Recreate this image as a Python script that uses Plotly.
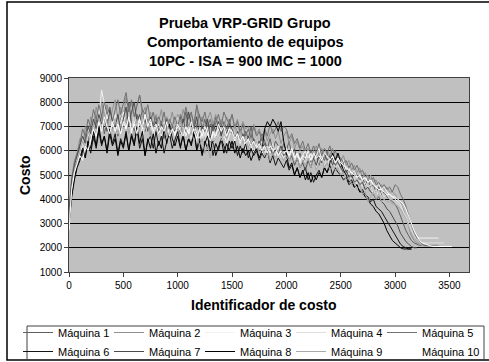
import plotly.graph_objects as go

cost_ids = list(range(0, 3526, 25))

names = ["Máquina 1", "Máquina 2", "Máquina 3", "Máquina 4", "Máquina 5",
         "Máquina 6", "Máquina 7", "Máquina 8", "Máquina 9", "Máquina 10"]
colors = ["#606060", "#909090", "#f2f2f2", "#dedede", "#707070",
          "#141414", "#4c4c4c", "#000000", "#a8a8a8", "#ffffff"]

m1 = [3300, 4600, 5300, 5600, 6100, 5800, 6600, 6300, 7000, 6400, 7300, 6800, 7500, 6700, 7200, 7800, 6900, 7400, 6600, 7300,
      7600, 7000, 8000, 7200, 6800, 7500, 7100, 7700, 6800, 7300, 6600, 7100, 7400, 6800, 7200, 6500, 7000, 7300, 6700, 7100,
      6800, 7400, 7000, 7600, 6900, 7200, 6600, 7100, 7500, 6900, 7300, 6700, 7100, 6800, 7400, 7000, 6600, 7200, 6900, 7300,
      6700, 7100, 6600, 6900, 6400, 6800, 6500, 7000, 6300, 6600, 6200, 6700, 6400, 6100, 6500, 6000, 6400, 6200, 5900, 6300,
      6000, 6400, 5800, 6100, 5600, 5900, 5500, 5800, 6000, 5500, 5700, 5900, 5400, 5800, 5600, 5900, 5500, 5700, 5400, 5600,
      5300, 5500, 5100, 5300, 4900, 5200, 5000, 4800, 4900, 4600, 4800, 4500, 4600, 4300, 4500, 4200, 4300, 4100, 4000, 3900,
      3800, 3600, 3300, 3000, 2700, 2500, 2300, 2200, 2150, 2100, 2100, 2100, 2100]
m2 = [3600, 4900, 5600, 5900, 6500, 6200, 7000, 6700, 7400, 7000, 7800, 7300, 8000, 7400, 7900, 7200, 7700, 8100, 7300, 7800,
      7400, 8200, 7600, 8000, 7300, 7900, 8300, 7500, 7800, 7100, 7600, 7000, 7500, 7200, 7700, 6900, 7400, 7100, 7600, 7000,
      7500, 7100, 7700, 7300, 6900, 7500, 7200, 7800, 7000, 7400, 6900, 7300, 7600, 7100, 7500, 6800, 7300, 7000, 7400, 7100,
      7500, 7000, 7300, 6800, 7200, 6900, 7000, 6600, 7100, 6700, 6900, 6500, 6800, 6400, 6700, 6900, 6500, 6800, 6300, 6600,
      6800, 6300, 6600, 6100, 6400, 6000, 6200, 5800, 6100, 5700, 6000, 6200, 5800, 6100, 5700, 6000, 5800, 6100, 5700, 5900,
      5600, 5800, 5400, 5600, 5200, 5400, 5100, 5300, 4900, 5100, 4800, 5000, 4700, 4800, 4500, 4600, 4400, 4500, 4300, 4300,
      4200, 4000, 3900, 3600, 3200, 2800, 2500, 2300, 2200, 2150, 2100, 2100, 2100, 2100, 2100, 2100, 2100]
m3 = [2800, 4300, 5000, 5500, 5800, 6300, 6000, 6700, 6500, 7100, 6800, 7400, 8500, 7900, 7300, 7700, 7000, 7500, 6800, 7200,
      7600, 7000, 7300, 6700, 7200, 6900, 7400, 6600, 7000, 6800, 7300, 6500, 6900, 7100, 6600, 7000, 6400, 6800, 7100, 6600,
      7000, 6700, 7200, 6600, 6900, 6500, 7100, 6700, 6400, 6900, 6600, 7000, 6300, 6700, 6500, 6900, 6400, 6700, 6300, 6600,
      6900, 6400, 6700, 6300, 6600, 6100, 6500, 6200, 5900, 6300, 5600, 6000, 5700, 6200, 5900, 6100, 5800, 6200, 5900, 5700,
      6100, 5800, 6000, 5600, 5900, 5500, 5800, 6000, 5600, 5900, 5500, 5800, 6100, 5600, 5900, 5700, 5500, 5800, 5500, 5600,
      5400, 5600, 5200, 5300, 5000, 5200, 4900, 5000, 4800, 4900, 4700, 4800, 4600, 4500, 4600, 4400, 4500, 4300, 4200, 4100,
      4000, 3900, 3800, 3500, 3200, 2900, 2700, 2550, 2450, 2400, 2400, 2400, 2400, 2400, 2400, 2400, 2400]
m4 = [3200, 4700, 5400, 5700, 6000, 6500, 6200, 6900, 6600, 7200, 6800, 7500, 7000, 7300, 6800, 7400, 7000, 7300, 6700, 7100,
      7400, 6900, 7300, 6800, 7500, 7000, 7200, 6700, 7300, 6900, 7100, 6600, 7000, 7300, 6700, 7200, 6900, 7300, 6800, 7100,
      7400, 6900, 7200, 6800, 7000, 6500, 6800, 6400, 6900, 6500, 6700, 6300, 6600, 6200, 6500, 6700, 6400, 6600, 6700, 6900,
      6800, 7000, 6600, 6800, 6400, 6600, 6200, 6500, 6300, 6600, 6100, 6400, 5900, 6200, 6000, 6300, 5800, 6100, 5700, 5900,
      5900, 5700, 6000, 5600, 5800, 5400, 5700, 5500, 5800, 5400, 5700, 5300, 5600, 5800, 5400, 5700, 5300, 5500, 5300, 5400,
      5100, 5300, 4900, 5100, 4800, 4900, 4600, 4800, 4500, 4700, 4500, 4600, 4200, 4400, 4100, 4300, 4100, 4200, 4000, 4000,
      3900, 3800, 3700, 3500, 3300, 3000, 2700, 2500, 2350, 2250, 2200, 2200, 2200, 2200, 2200, 2200, 2200, 2200, 2200]
m5 = [3400, 4800, 5500, 5900, 6300, 6900, 6600, 7300, 7000, 7700, 7300, 7900, 7400, 8000, 7500, 7800, 7200, 7700, 8100, 7500,
      7900, 8400, 7600, 8100, 7400, 7800, 8300, 7700, 7500, 7900, 7200, 7600, 7000, 7400, 7100, 7600, 6900, 7300, 7000, 7400,
      7000, 7500, 7200, 7800, 7300, 7600, 7000, 7900, 7400, 7200, 7600, 7000, 7300, 6800, 7200, 7500, 7000, 7600, 7300, 7100,
      7500, 6900, 7200, 6700, 7100, 6600, 6900, 6500, 7000, 6600, 6800, 6400, 6900, 6600, 7100, 6700, 6900, 7200, 6800, 7000,
      6900, 6500, 6700, 6300, 6500, 6100, 6400, 6000, 6300, 5900, 6200, 5900, 6300, 5800, 6100, 5900, 6200, 5800, 6000, 5700,
      5700, 5500, 5600, 5300, 5500, 5200, 5400, 5100, 5200, 4900, 5000, 4800, 4900, 4600, 4700, 4500, 4600, 4400, 4500, 4300,
      4600, 4500, 4200, 4000, 3700, 3300, 2900, 2600, 2400, 2250, 2150, 2100, 2080, 2050, 2050, 2050, 2050, 2050, 2050, 2050,
      2050, 2050]
m6 = [3000, 4200, 4900, 5400, 5700, 6100, 5800, 6300, 5900, 6600, 6100, 6800, 6200, 6600, 6000, 6900, 6300, 6700, 5900, 6500,
      6200, 6800, 6000, 6700, 6300, 6900, 6100, 6500, 5800, 6400, 6600, 6100, 6800, 6200, 6600, 5900, 6400, 6700, 6100, 6500,
      6800, 6200, 6600, 6000, 6500, 6300, 6700, 6100, 6500, 5900, 6400, 6100, 6600, 5800, 6300, 6000, 6500, 6200, 5900, 6400,
      6100, 6400, 5800, 6200, 5900, 6300, 5700, 6100, 5800, 6000, 5600, 5900, 5700, 6000, 5500, 5800, 5400, 5700, 5500, 5300,
      5600, 5200, 5400, 5000, 5300, 4900, 5100, 5300, 4800, 5100, 4700, 5000, 5200, 4900, 5300, 5100, 5400, 5000, 5300, 5100,
      5000, 4800, 4900, 4600, 4700, 4500, 4600, 4300, 4400, 4200, 4100, 3900, 4000, 3700, 3600, 3500, 3300, 3100, 2900, 2700,
      2500, 2300, 2150, 2050, 2000, 1950, 1950]
m7 = [3500, 4800, 5400, 5800, 6200, 6600, 6300, 7000, 6700, 7300, 6900, 7500, 7100, 7400, 6800, 7700, 7200, 7000, 7500, 6800,
      7300, 7800, 7000, 7600, 8000, 7200, 7500, 6900, 7300, 6800, 7400, 7000, 7200, 6700, 7100, 6900, 7300, 6600, 7000, 6800,
      7100, 6700, 7300, 6800, 7600, 7100, 6900, 7400, 6600, 7000, 6800, 7300, 6500, 7100, 6800, 7200, 6600, 7000, 6700, 7100,
      6900, 6500, 6800, 6400, 6700, 6300, 6600, 6200, 6500, 6000, 6400, 6100, 6300, 5900, 6200, 5800, 6100, 5900, 6200, 5800,
      5900, 5600, 5800, 5400, 5700, 5300, 5500, 5200, 5600, 5300, 5700, 5400, 5800, 5500, 5900, 5600, 5800, 5400, 5700, 5500,
      5300, 5100, 5200, 4900, 5000, 4700, 4800, 4600, 4700, 4400, 4500, 4300, 4200, 4000, 4100, 3900, 3800, 3600, 3500, 3300,
      3100, 2900, 2600, 2400, 2250, 2150, 2050, 2000, 2000]
m8 = [2900, 4100, 4800, 5300, 5600, 6000, 5700, 6400, 6100, 6800, 6200, 7000, 6300, 6600, 5900, 6700, 6200, 6500, 5800, 6400,
      6100, 6700, 6000, 6600, 6200, 7000, 6300, 6800, 5800, 6500, 6100, 6700, 5900, 6400, 6100, 6900, 6300, 7100, 6500, 6200,
      6600, 6100, 6700, 6000, 6500, 6200, 6800, 6000, 6400, 5800, 6300, 6600, 6000, 6400, 5800, 6200, 6500, 5900, 6300, 6000,
      6400, 5900, 6200, 5700, 6100, 5800, 6000, 5600, 5900, 6100, 5700, 6000, 6900, 7200, 7000, 7300, 7100, 6800, 7200, 6400,
      5800, 5300, 5500, 5000, 5300, 4900, 5200, 4800, 5100, 4700, 5000, 4800, 5100, 4900, 5300, 5100, 5500, 5900, 5600, 5900,
      5500, 5200, 5000, 4700, 4800, 4500, 4600, 4300, 4300, 4100, 4000, 3800, 3700, 3500, 3400, 3200, 3000, 2700, 2500, 2300,
      2200, 2100, 2000, 1950, 1950, 1950, 1950]
m9 = [3100, 4500, 5200, 5600, 5900, 6400, 6100, 6800, 6500, 7100, 6700, 7300, 6900, 7600, 7000, 7400, 6800, 7300, 6700, 7100,
      6900, 7300, 6700, 7100, 6600, 7300, 6800, 7500, 6900, 7200, 6600, 7000, 6800, 7300, 6700, 7100, 6500, 6900, 6700, 7200,
      6800, 7200, 6700, 7000, 6500, 6800, 6400, 6700, 6200, 6500, 5900, 6200, 5700, 6300, 6500, 6800, 6400, 6700, 6500, 6800,
      6700, 7000, 6500, 6800, 6300, 6600, 6100, 6500, 6200, 6400, 5900, 6200, 5800, 6000, 5600, 5900, 5700, 6000, 5800, 5600,
      5800, 5600, 5900, 5500, 5700, 5300, 5600, 5400, 5700, 5300, 5600, 5200, 5500, 5700, 5300, 5500, 5200, 5400, 5200, 5300,
      5000, 5100, 4800, 4900, 4600, 4700, 4400, 4600, 4200, 4300, 3900, 4100, 4300, 4000, 4200, 3900, 4000, 3900, 3900, 3800,
      3800, 3700, 3600, 3400, 3200, 2900, 2600, 2400, 2250, 2150, 2100, 2050, 2050, 2050, 2050, 2050, 2050, 2050, 2050]
m10 = [2700, 4400, 5100, 5500, 5800, 5600, 6200, 6000, 6500, 6900, 6600, 7200, 6800, 7400, 7000, 6700, 7200, 6800, 7100, 6700,
       7200, 6900, 7400, 6800, 7100, 6700, 7300, 6900, 7500, 7000, 7300, 6800, 7100, 6700, 7000, 6800, 7200, 6600, 6900, 6700,
       7100, 6800, 6600, 7000, 6700, 7200, 6800, 6500, 6900, 6600, 7000, 6700, 6400, 6800, 6600, 7100, 6800, 7000, 6600, 6900,
       6800, 6500, 6700, 6400, 6600, 6300, 6500, 6200, 6400, 6100, 6300, 6000, 6200, 5900, 6200, 6000, 6100, 5800, 6000, 5900,
       6000, 5800, 6100, 5700, 5900, 5600, 5800, 5700, 6000, 5600, 5900, 5700, 5800, 5600, 5900, 5800, 5600, 5800, 5500, 5700,
       5500, 5400, 5300, 5200, 5100, 5000, 4900, 5000, 4800, 4900, 4700, 4800, 4600, 4500, 4400, 4400, 4300, 4200, 4200, 4100,
       4100, 4000, 3900, 3800, 3600, 3300, 3000, 2700, 2500, 2300, 2200, 2150, 2100, 2080, 2050, 2050, 2050, 2050, 2050, 2050,
       2050, 2050]

series = [m1, m2, m3, m4, m5, m6, m7, m8, m9, m10]

fig = go.Figure()
for name, col, vals in zip(names, colors, series):
    fig.add_trace(go.Scatter(x=cost_ids[:len(vals)], y=vals, mode="lines", name=name,
                             line=dict(color=col, width=1)))

L, R, T, B = 69, 469, 78, 272
W, H = 489, 362
def px(xp):
    return (xp - L) / (R - L)
def py(yp):
    return (B - yp) / (B - T)

fig.update_layout(
    width=W, height=H,
    margin=dict(l=L, r=W - R, t=T, b=H - B, pad=0, autoexpand=False),
    paper_bgcolor="white", plot_bgcolor="#c0c0c0",
    font=dict(family="Liberation Sans, Arial, sans-serif", color="black", size=10),
    showlegend=True,
    legend=dict(orientation="h", x=px(18), xanchor="left", y=py(318), yanchor="top",
                entrywidth=46, entrywidthmode="pixels",
                font=dict(size=11), bgcolor="rgba(0,0,0,0)", borderwidth=0,
                traceorder="normal", tracegroupgap=0),
)
fig.update_xaxes(range=[0, 3680], tickmode="linear", tick0=0, dtick=500,
                 showgrid=False, zeroline=False, showline=True, linecolor="#404040",
                 linewidth=1, mirror=True, ticks="outside", ticklen=4, tickcolor="#404040",
                 tickfont=dict(size=10), title=None)
fig.update_yaxes(range=[1000, 9000], tickmode="linear", tick0=1000, dtick=1000,
                 showgrid=True, gridcolor="black", gridwidth=1, zeroline=False,
                 showline=True, linecolor="#404040", linewidth=1, mirror=True,
                 ticks="outside", ticklen=4, tickcolor="#404040",
                 tickfont=dict(size=10), title=None)

title_lines = ["Prueba VRP-GRID Grupo", "Comportamiento de equipos", "10PC - ISA = 900 IMC = 1000"]
for t, yc in zip(title_lines, [23, 42, 61]):
    fig.add_annotation(text="<b>%s</b>" % t, xref="paper", yref="paper",
                       x=px(245), y=py(yc), xanchor="center", yanchor="middle",
                       showarrow=False, font=dict(size=14.5))
fig.add_annotation(text="<b>Costo</b>", xref="paper", yref="paper", x=px(25), y=py(175),
                   xanchor="center", yanchor="middle", textangle=-90, showarrow=False,
                   font=dict(size=14))
fig.add_annotation(text="<b>Identificador de costo</b>", xref="paper", yref="paper",
                   x=px(263), y=py(305), xanchor="center", yanchor="middle",
                   showarrow=False, font=dict(size=14))

fig.add_shape(type="rect", xref="paper", yref="paper", x0=px(7), x1=px(495), y0=py(360), y1=py(2),
              line=dict(color="black", width=1.5), layer="below")
fig.add_shape(type="rect", xref="paper", yref="paper", x0=px(27), x1=px(484), y0=py(360), y1=py(326),
              line=dict(color="#404040", width=1), layer="below")

post_js = (
    "document.body.style.margin='0px';document.body.style.overflow='hidden';"
    "var unclip=function(){document.querySelectorAll('.legend .scrollbox, .legend').forEach("
    "function(e){e.removeAttribute('clip-path');});};"
    "unclip();setTimeout(unclip,50);setTimeout(unclip,300);"
)
fig.write_html("out.html", config={"displayModeBar": False}, post_script=post_js)
